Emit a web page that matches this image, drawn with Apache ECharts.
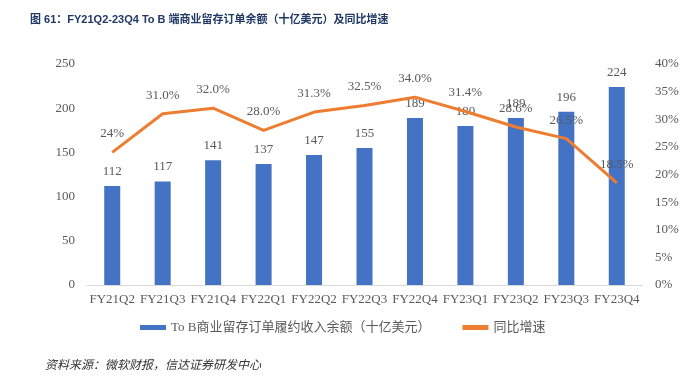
<!DOCTYPE html>
<html>
<head>
<meta charset="utf-8">
<script src="https://cdn.jsdelivr.net/npm/echarts@6/dist/echarts.min.js"></script>
<style>
  html, body { margin: 0; padding: 0; background: #fff; }
  #chart { width: 682px; height: 377px; }
</style>
</head>
<body>
<div id="chart"></div>
<script>
const categories = ['FY21Q2', 'FY21Q3', 'FY21Q4', 'FY22Q1', 'FY22Q2', 'FY22Q3', 'FY22Q4', 'FY23Q1', 'FY23Q2', 'FY23Q3', 'FY23Q4'];
const backlog = [112, 117, 141, 137, 147, 155, 189, 180, 189, 196, 224];
const growth = [24, 31.0, 32.0, 28.0, 31.3, 32.5, 34.0, 31.4, 28.6, 26.5, 18.5];
const growthLabels = ['24%', '31.0%', '32.0%', '28.0%', '31.3%', '32.5%', '34.0%', '31.4%', '28.6%', '26.5%', '18.5%'];

const serif = "'Liberation Serif', 'Noto Sans CJK SC', serif";
const gray = '#595959';

const chart = echarts.init(document.getElementById('chart'));
chart.setOption({
  animation: false,
  title: [{
    text: '图 61：FY21Q2-23Q4 To B 端商业留存订单余额（十亿美元）及同比增速',
    left: 25, top: 9,
    textStyle: { fontSize: 11, fontWeight: 'bold', color: '#1f3864', fontFamily: "'Liberation Sans', 'Noto Sans CJK SC', sans-serif" }
  }, {
    text: '资料来源：微软财报，信达证券研发中心',
    left: 40, top: 353,
    textStyle: { fontSize: 12, fontWeight: 'normal', fontStyle: 'italic', color: '#333', fontFamily: "'Noto Sans CJK SC', sans-serif" }
  }],
  legend: {
    bottom: 38,
    left: 135,
    itemGap: 32,
    itemWidth: 26,
    itemHeight: 5,
    textStyle: { color: gray, fontSize: 13, fontFamily: serif },
    data: [
      { name: 'To B商业留存订单履约收入余额（十亿美元）', icon: 'rect' },
      { name: '同比增速', icon: 'rect', itemStyle: { color: '#ed7d31' } }
    ]
  },
  grid: { left: 87, right: 40, top: 64, bottom: 92 },
  xAxis: {
    type: 'category',
    data: categories,
    axisLine: { lineStyle: { color: '#d9d9d9' } },
    axisTick: { show: false },
    axisLabel: { color: gray, fontSize: 13, fontFamily: serif, margin: 8, interval: 0 }
  },
  yAxis: [{
    type: 'value', min: 0, max: 250, interval: 50,
    axisLine: { show: false }, axisTick: { show: false },
    splitLine: { show: false },
    axisLabel: { color: gray, fontSize: 13, fontFamily: serif, margin: 12 }
  }, {
    type: 'value', min: 0, max: 40, interval: 5,
    axisLine: { show: false }, axisTick: { show: false },
    splitLine: { show: false },
    axisLabel: { color: gray, fontSize: 13, fontFamily: serif, margin: 13, formatter: '{value}%' }
  }],
  series: [{
    name: 'To B商业留存订单履约收入余额（十亿美元）',
    type: 'bar',
    data: backlog,
    barWidth: 16,
    itemStyle: { color: '#4472c4' },
    label: { show: true, position: 'top', color: gray, fontSize: 13, fontFamily: serif, distance: 8 }
  }, {
    name: '同比增速',
    type: 'line',
    yAxisIndex: 1,
    data: growth,
    symbol: 'circle',
    symbolSize: 0,
    showSymbol: true,
    lineStyle: { color: '#ed7d31', width: 3 },
    itemStyle: { color: '#ed7d31' },
    label: {
      show: true, position: 'top', distance: 12, color: gray, fontSize: 13, fontFamily: serif,
      formatter: p => growthLabels[p.dataIndex]
    },
    labelLayout: { hideOverlap: false }
  }]
});
</script>
</body>
</html>
